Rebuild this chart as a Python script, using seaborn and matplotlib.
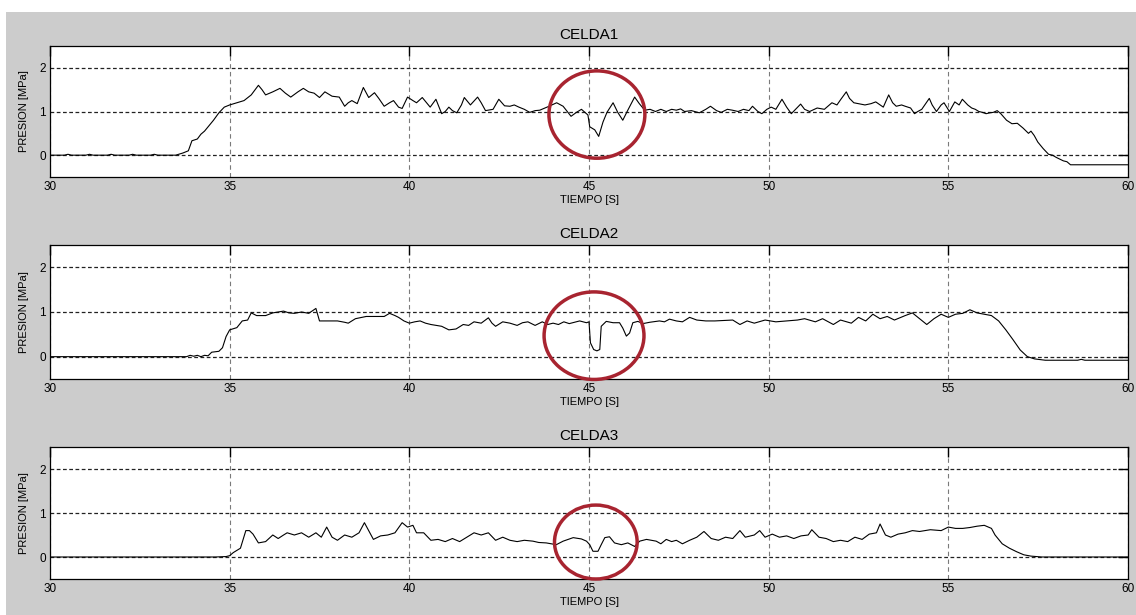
import matplotlib
matplotlib.use("Agg")
import matplotlib.pyplot as plt
from matplotlib.patches import Ellipse, Rectangle
import seaborn as sns
import pandas as pd

# ---------------- data ----------------
CELDA1 = [(30.0,0.0),(30.4,0.0),(30.5,0.02),(30.6,0.0),(31.0,0.0),(31.1,0.02),(31.2,0.0),(31.6,0.0),(31.7,0.02),(31.8,0.0),
          (32.2,0.0),(32.3,0.02),(32.4,0.0),(32.8,0.0),(32.9,0.02),(33.0,0.0),(33.5,0.0),(33.7,0.05),(33.85,0.1),(33.95,0.33),
          (34.1,0.37),(34.2,0.48),(34.3,0.55),(34.45,0.7),(34.55,0.8),(34.7,0.97),(34.85,1.1),(35.0,1.15),(35.2,1.2),(35.4,1.25),
          (35.6,1.38),(35.8,1.6),(35.9,1.5),(36.0,1.38),(36.2,1.45),(36.4,1.53),(36.55,1.42),(36.7,1.33),(36.9,1.45),(37.05,1.53),
          (37.2,1.45),(37.35,1.42),(37.5,1.32),(37.65,1.45),(37.85,1.35),(38.05,1.33),(38.2,1.12),(38.3,1.2),(38.4,1.25),(38.55,1.18),
          (38.72,1.55),(38.87,1.32),(39.03,1.43),(39.15,1.3),(39.3,1.12),(39.45,1.2),(39.56,1.25),(39.7,1.1),(39.8,1.07),(39.95,1.33),
          (40.1,1.25),(40.2,1.2),(40.36,1.32),(40.5,1.18),(40.58,1.1),(40.74,1.28),(40.9,0.95),(41.0,1.0),(41.1,1.1),(41.2,1.02),
          (41.32,0.97),(41.45,1.15),(41.53,1.32),(41.7,1.15),(41.9,1.33),(42.0,1.2),(42.12,1.02),(42.33,1.05),(42.49,1.28),(42.65,1.13),
          (42.8,1.12),(42.92,1.15),(43.05,1.1),(43.2,1.05),(43.35,0.98),(43.5,1.02),(43.63,1.03),(43.86,1.11),(44.1,1.2),(44.28,1.12),
          (44.5,0.89),(44.65,0.98),(44.79,1.05),(44.97,0.92),(45.02,0.65),(45.16,0.58),(45.27,0.43),(45.39,0.76),(45.5,0.98),(45.67,1.2),
          (45.8,0.98),(45.94,0.8),(46.08,1.03),(46.27,1.33),(46.4,1.18),(46.55,1.03),(46.7,1.05),(46.85,1.0),(47.0,1.05),(47.15,1.0),
          (47.3,1.05),(47.43,1.03),(47.55,1.06),(47.66,1.0),(47.85,1.02),(48.07,0.97),(48.25,1.05),(48.38,1.12),(48.55,1.02),(48.68,0.98),
          (48.85,1.05),(48.99,1.03),(49.15,1.0),(49.3,1.05),(49.45,1.02),(49.55,1.12),(49.7,1.0),(49.81,0.95),(49.95,1.05),(50.07,1.1),
          (50.2,1.05),(50.37,1.28),(50.5,1.1),(50.63,0.95),(50.75,1.05),(50.89,1.17),(51.0,1.05),(51.14,1.0),(51.35,1.08),(51.55,1.05),
          (51.76,1.2),(51.9,1.15),(52.01,1.28),(52.16,1.45),(52.25,1.3),(52.37,1.2),(52.5,1.18),(52.68,1.15),(52.85,1.18),(52.98,1.22),
          (53.1,1.15),(53.19,1.1),(53.34,1.38),(53.45,1.2),(53.55,1.12),(53.7,1.15),(53.8,1.12),(53.95,1.08),(54.06,0.95),(54.15,1.0),
          (54.26,1.05),(54.47,1.3),(54.55,1.15),(54.67,1.0),(54.8,1.15),(54.88,1.2),(55.03,1.0),(55.18,1.22),(55.3,1.15),(55.39,1.28),
          (55.54,1.15),(55.65,1.08),(55.75,1.05),(55.85,1.0),(55.95,0.98),(56.05,0.95),(56.16,0.97),(56.25,0.98),(56.36,1.02),(56.46,0.95),
          (56.62,0.8),(56.77,0.72),(56.92,0.73),(57.08,0.62),(57.23,0.5),(57.3,0.55),(57.39,0.45),(57.49,0.3),(57.64,0.15),(57.79,0.02),
          (57.9,0.0),(58.0,-0.05),(58.2,-0.13),(58.3,-0.15),(58.4,-0.22),(60.0,-0.22)]

CELDA2 = [(30.0,0.0),(33.8,0.0),(33.9,0.03),(34.0,0.01),(34.1,0.03),(34.2,0.0),(34.3,0.03),(34.4,0.02),(34.5,0.1),(34.7,0.12),
          (34.8,0.2),(34.9,0.45),(35.0,0.6),(35.2,0.65),(35.35,0.8),(35.5,0.82),(35.6,0.98),(35.75,0.92),(36.0,0.92),(36.2,0.98),
          (36.5,1.02),(36.65,0.98),(36.8,0.97),(37.0,1.0),(37.2,0.97),(37.4,1.08),(37.5,0.8),(37.8,0.8),(38.0,0.8),(38.2,0.77),
          (38.3,0.75),(38.5,0.85),(38.8,0.9),(39.0,0.9),(39.3,0.9),(39.45,0.97),(39.6,0.92),(39.7,0.88),(39.85,0.8),(40.0,0.75),
          (40.15,0.78),(40.3,0.8),(40.45,0.75),(40.6,0.72),(40.75,0.7),(40.9,0.68),(41.1,0.6),(41.3,0.62),(41.5,0.72),(41.65,0.7),
          (41.8,0.78),(42.0,0.75),(42.2,0.87),(42.3,0.75),(42.4,0.68),(42.6,0.78),(42.8,0.75),(43.0,0.7),(43.15,0.76),(43.3,0.78),
          (43.5,0.7),(43.7,0.78),(43.85,0.72),(44.0,0.75),(44.15,0.72),(44.3,0.78),(44.45,0.74),(44.6,0.77),(44.74,0.8),(44.93,0.76),
          (45.0,0.78),(45.04,0.31),(45.13,0.16),(45.22,0.13),(45.3,0.16),(45.34,0.68),(45.48,0.79),(45.67,0.76),(45.85,0.76),(45.94,0.64),
          (46.04,0.46),(46.13,0.53),(46.22,0.76),(46.36,0.79),(46.5,0.74),(46.69,0.77),(46.96,0.8),(47.1,0.78),(47.24,0.84),(47.43,0.8),
          (47.6,0.78),(47.8,0.88),(48.0,0.82),(48.25,0.8),(48.5,0.8),(48.75,0.81),(49.0,0.82),(49.2,0.72),(49.4,0.8),(49.6,0.75),
          (49.9,0.82),(50.2,0.78),(50.5,0.8),(50.8,0.82),(51.0,0.85),(51.3,0.78),(51.5,0.85),(51.8,0.72),(52.0,0.82),(52.3,0.75),
          (52.5,0.88),(52.7,0.8),(52.9,0.95),(53.1,0.85),(53.3,0.9),(53.5,0.82),(53.8,0.92),(54.0,0.98),(54.2,0.85),(54.4,0.72),
          (54.6,0.85),(54.8,0.95),(55.0,0.88),(55.2,0.95),(55.4,0.97),(55.6,1.05),(55.8,0.98),(56.0,0.95),(56.2,0.92),(56.4,0.8),
          (56.6,0.6),(56.8,0.38),(57.0,0.15),(57.2,0.0),(57.4,-0.05),(57.7,-0.08),(58.6,-0.08),(58.7,-0.06),(58.8,-0.08),(60.0,-0.08)]

CELDA3 = [(30.0,0.0),(34.6,0.0),(34.9,0.01),(35.0,0.03),(35.1,0.1),(35.3,0.2),(35.45,0.6),(35.55,0.6),(35.65,0.52),(35.8,0.32),
          (36.0,0.35),(36.2,0.5),(36.35,0.42),(36.5,0.5),(36.6,0.55),(36.8,0.5),(37.0,0.55),(37.2,0.45),(37.4,0.55),(37.55,0.45),
          (37.7,0.68),(37.85,0.45),(38.0,0.38),(38.2,0.5),(38.4,0.45),(38.6,0.55),(38.75,0.78),(38.9,0.55),(39.0,0.4),(39.2,0.48),
          (39.4,0.5),(39.6,0.55),(39.8,0.78),(39.95,0.68),(40.1,0.72),(40.2,0.55),(40.4,0.55),(40.6,0.38),(40.8,0.4),(41.0,0.35),
          (41.2,0.42),(41.4,0.35),(41.6,0.45),(41.8,0.55),(42.0,0.5),(42.2,0.55),(42.4,0.38),(42.6,0.45),(42.8,0.38),(43.0,0.35),
          (43.2,0.38),(43.44,0.36),(43.6,0.33),(43.81,0.32),(44.09,0.28),(44.28,0.36),(44.56,0.44),(44.79,0.41),(44.93,0.36),(45.02,0.28),
          (45.11,0.13),(45.25,0.13),(45.34,0.28),(45.44,0.44),(45.57,0.46),(45.71,0.32),(45.9,0.28),(46.08,0.32),(46.27,0.24),(46.41,0.36),
          (46.6,0.4),(46.87,0.36),(47.0,0.3),(47.15,0.4),(47.3,0.35),(47.43,0.38),(47.6,0.3),(47.8,0.38),(48.0,0.45),(48.2,0.58),
          (48.4,0.42),(48.6,0.38),(48.8,0.45),(49.0,0.42),(49.2,0.6),(49.35,0.45),(49.6,0.5),(49.75,0.6),(49.9,0.45),(50.1,0.52),
          (50.3,0.45),(50.5,0.48),(50.7,0.42),(50.9,0.48),(51.1,0.5),(51.2,0.62),(51.4,0.45),(51.6,0.42),(51.8,0.35),(52.0,0.38),
          (52.2,0.35),(52.4,0.45),(52.6,0.4),(52.8,0.52),(53.0,0.55),(53.1,0.75),(53.25,0.5),(53.4,0.45),(53.6,0.52),(53.8,0.55),
          (54.0,0.6),(54.2,0.58),(54.5,0.62),(54.8,0.6),(55.0,0.68),(55.2,0.65),(55.4,0.65),(55.6,0.67),(55.8,0.7),(56.0,0.72),
          (56.2,0.65),(56.3,0.5),(56.5,0.3),(56.7,0.2),(56.9,0.12),(57.1,0.05),(57.3,0.02),(57.6,0.0),(60.0,0.0)]

TITLES = ["CELDA1", "CELDA2", "CELDA3"]
X_TICKS = [30, 35, 40, 45, 50, 55, 60]
Y_TICKS = [0, 1, 2]
X_LABEL = "TIEMPO [S]"
Y_LABEL = "PRESION [MPa]"
# highlighted events: (center time, center pressure, width s, height MPa)
CIRCLES = [(45.22, 0.93, 2.67, 2.0), (45.14, 0.47, 2.78, 1.96), (45.19, 0.34, 2.3, 1.68)]

# ---------------- style ----------------
sns.set_theme(style="white")
plt.rcParams["font.family"] = ["Liberation Sans", "DejaVu Sans"]
plt.rcParams["text.color"] = "black"
plt.rcParams["axes.labelcolor"] = "black"
plt.rcParams["xtick.color"] = "black"
plt.rcParams["ytick.color"] = "black"

W, H = 1136, 615
fig = plt.figure(figsize=(W / 100, H / 100), dpi=100, facecolor="white")
fig.patches.append(Rectangle((6 / W, 0), 1 - 6 / W, 1 - 12 / H, transform=fig.transFigure,
                             facecolor="#cccccc", edgecolor="none", zorder=-10))

# axes boxes in pixels: (top, bottom)
boxes = [(46, 177), (245, 379), (447, 579)]
left_px, right_px = 50, 1128

for i, (series, title, (top, bot), circ) in enumerate(zip([CELDA1, CELDA2, CELDA3], TITLES, boxes, CIRCLES)):
    ax = fig.add_axes([left_px / W, 1 - bot / H, (right_px - left_px) / W, (bot - top) / H])
    ax.set_facecolor("white")
    df = pd.DataFrame(series, columns=["t", "p"])
    sns.lineplot(data=df, x="t", y="p", ax=ax, color="black", lw=0.8, estimator=None, sort=False, zorder=3)
    ax.set_xlim(30, 60)
    ax.set_ylim(-0.5, 2.5)
    ax.set_xticks(X_TICKS)
    ax.set_yticks(Y_TICKS)
    ax.set_xticklabels([str(v) for v in X_TICKS], fontsize=8.5, color="black")
    ax.set_yticklabels([str(v) for v in Y_TICKS], fontsize=8.5, color="black")
    ax.tick_params(direction="in", length=7, width=1.0, top=True, right=True, pad=3, colors="black")
    ax.xaxis.grid(True, linestyle=(0, (4, 3)), color="#7a7a7a", lw=0.8)
    ax.yaxis.grid(True, linestyle=(0, (3, 2)), color="#222222", lw=0.9)
    for s in ax.spines.values():
        s.set_visible(True)
        s.set_color("black")
        s.set_linewidth(0.9)
    ax.set_title(title, fontsize=11, pad=5, color="black")
    ax.set_xlabel(X_LABEL, fontsize=8, labelpad=1, color="black")
    ax.set_ylabel(Y_LABEL, fontsize=8, labelpad=7, color="black")
    cx, cy, w, h = circ
    ax.add_patch(Ellipse((cx, cy), w, h, facecolor="none", edgecolor="#a82430", lw=2.5,
                         zorder=5, clip_on=False))

fig.savefig("out.png", dpi=100, facecolor=fig.get_facecolor())
